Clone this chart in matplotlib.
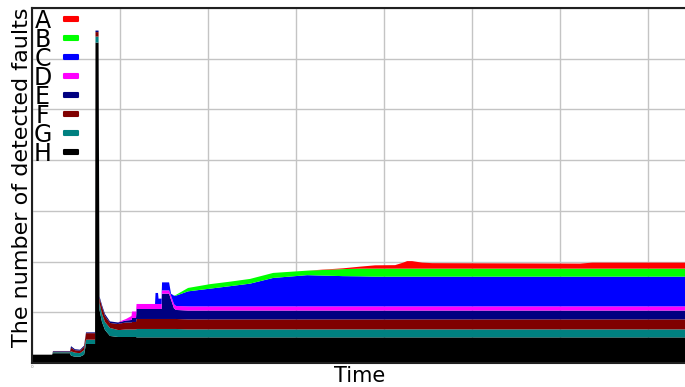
import matplotlib
matplotlib.use("Agg")
import matplotlib.pyplot as plt
import numpy as np
from matplotlib.patches import Rectangle

# time axis (grid units) and per-series fault counts, stacked H at the bottom up to A
TIME = [0.000, 0.228, 0.239, 0.432, 0.444, 0.489, 0.546, 0.592, 0.614, 0.717,
        0.722, 0.757, 0.768, 0.796, 0.830, 0.887, 0.978, 1.001, 1.069, 1.132,
        1.138, 1.183, 1.189, 1.399, 1.405, 1.433, 1.439, 1.473, 1.479, 1.559,
        1.581, 1.615, 1.638, 1.775, 2.025, 2.253, 2.480, 2.742, 3.129, 3.538,
        3.731, 3.902, 4.130, 4.221, 4.266, 4.323, 4.437, 4.551, 6.234, 6.371,
        7.500]

H = [0.164, 0.164, 0.193, 0.193, 0.144, 0.124, 0.124, 0.164, 0.375, 0.375,
     6.318, 6.318, 1.045, 0.809, 0.651, 0.533, 0.513, 0.513, 0.513, 0.513,
     0.513, 0.513, 0.505, 0.505, 0.505, 0.505, 0.505, 0.505, 0.505, 0.505,
     0.505, 0.505, 0.505, 0.505, 0.505, 0.505, 0.505, 0.505, 0.505, 0.505,
     0.505, 0.505, 0.505, 0.505, 0.505, 0.505, 0.505, 0.505, 0.505, 0.505,
     0.505]
G = [0.000, 0.000, 0.020, 0.020, 0.085, 0.079, 0.069, 0.089, 0.085, 0.085,
     0.118, 0.118, 0.138, 0.158, 0.158, 0.158, 0.138, 0.138, 0.148, 0.148,
     0.148, 0.148, 0.166, 0.166, 0.166, 0.166, 0.166, 0.166, 0.166, 0.166,
     0.166, 0.166, 0.166, 0.158, 0.158, 0.158, 0.158, 0.158, 0.158, 0.158,
     0.158, 0.158, 0.158, 0.158, 0.158, 0.158, 0.158, 0.158, 0.158, 0.158,
     0.158]
F = [0.000, 0.000, 0.014, 0.014, 0.073, 0.049, 0.049, 0.069, 0.128, 0.128,
     0.089, 0.089, 0.099, 0.138, 0.118, 0.099, 0.118, 0.128, 0.138, 0.138,
     0.148, 0.148, 0.197, 0.197, 0.197, 0.197, 0.197, 0.197, 0.197, 0.197,
     0.197, 0.197, 0.197, 0.197, 0.197, 0.197, 0.197, 0.197, 0.197, 0.197,
     0.197, 0.197, 0.197, 0.197, 0.197, 0.197, 0.197, 0.197, 0.197, 0.197,
     0.197]
E = [0.000, 0.000, 0.010, 0.010, 0.030, 0.020, 0.020, 0.020, 0.016, 0.016,
     0.030, 0.030, 0.030, 0.039, 0.039, 0.030, 0.030, 0.030, 0.039, 0.049,
     0.079, 0.079, 0.197, 0.197, 0.197, 0.197, 0.197, 0.197, 0.499, 0.499,
     0.381, 0.207, 0.178, 0.174, 0.174, 0.174, 0.174, 0.174, 0.174, 0.174,
     0.174, 0.174, 0.174, 0.174, 0.174, 0.174, 0.174, 0.174, 0.174, 0.174,
     0.174]
D = [0.000, 0.000, 0.000, 0.000, 0.000, 0.000, 0.000, 0.000, 0.000, 0.000,
     0.000, 0.000, 0.000, 0.000, 0.000, 0.000, 0.000, 0.010, 0.030, 0.079,
     0.128, 0.128, 0.099, 0.099, 0.099, 0.099, 0.099, 0.099, 0.065, 0.065,
     0.079, 0.085, 0.079, 0.083, 0.083, 0.083, 0.083, 0.083, 0.083, 0.083,
     0.083, 0.083, 0.083, 0.083, 0.083, 0.083, 0.083, 0.083, 0.083, 0.083,
     0.083]
C = [0.000, 0.000, 0.000, 0.000, 0.000, 0.000, 0.000, 0.000, 0.000, 0.000,
     0.000, 0.000, 0.000, 0.000, 0.000, 0.000, 0.000, 0.000, 0.000, 0.000,
     0.000, 0.000, 0.000, 0.000, 0.217, 0.217, 0.105, 0.105, 0.158, 0.158,
     0.039, 0.168, 0.203, 0.296, 0.349, 0.398, 0.448, 0.560, 0.615, 0.596,
     0.592, 0.586, 0.586, 0.586, 0.586, 0.586, 0.586, 0.586, 0.586, 0.586,
     0.586]
B = [0.000, 0.000, 0.000, 0.000, 0.000, 0.000, 0.000, 0.000, 0.000, 0.000,
     0.000, 0.000, 0.000, 0.000, 0.000, 0.000, 0.000, 0.000, 0.000, 0.000,
     0.000, 0.000, 0.000, 0.000, 0.000, 0.000, 0.000, 0.000, 0.000, 0.000,
     0.000, 0.000, 0.016, 0.067, 0.089, 0.089, 0.093, 0.099, 0.089, 0.138,
     0.152, 0.158, 0.158, 0.158, 0.158, 0.158, 0.158, 0.158, 0.158, 0.158,
     0.158]
A = [0.000, 0.000, 0.000, 0.000, 0.000, 0.000, 0.000, 0.000, 0.000, 0.000,
     0.000, 0.000, 0.000, 0.000, 0.000, 0.000, 0.000, 0.000, 0.000, 0.000,
     0.000, 0.000, 0.000, 0.000, 0.000, 0.000, 0.000, 0.000, 0.000, 0.000,
     0.000, 0.000, 0.000, 0.000, 0.000, 0.000, 0.000, 0.000, 0.000, 0.016,
     0.039, 0.065, 0.069, 0.118, 0.148, 0.148, 0.118, 0.108, 0.099, 0.118,
     0.118]

NAMES = ["A", "B", "C", "D", "E", "F", "G", "H"]
COLORS = ["#ff0000", "#00ff00", "#0000ff", "#ff00ff",
          "#000080", "#800000", "#008080", "#000000"]

fig = plt.figure(figsize=(6.85, 3.87), dpi=100)
ax = fig.add_axes([32 / 685, 24 / 387, 656 / 685, 355 / 387])

layers = [H, G, F, E, D, C, B, A]
ax.stackplot(TIME, *layers, colors=COLORS[::-1], linewidth=0)

ax.set_xlim(0, 7.46)
ax.set_ylim(0, 7)
ax.set_xticks(np.arange(0, 8))
ax.set_xticklabels(["0"] + [""] * 7)
ax.set_yticks(np.arange(0, 8))
ax.set_yticklabels([])
ax.tick_params(length=0, labelsize=3, labelcolor="#808080", pad=1.5)
ax.grid(True, color="#c4c4c4", linewidth=1)
ax.set_axisbelow(True)
for side in ("left", "top", "bottom"):
    ax.spines[side].set_color("#202020")
    ax.spines[side].set_linewidth(1.5)
ax.spines["right"].set_visible(False)

ax.set_xlabel("Time", fontsize=15, labelpad=-2.5)
ax.set_ylabel("The number of detected faults", fontsize=16)
ax.yaxis.set_label_coords(0.0, 0.522)

# hand-placed key: letter, then a small colour bar
for k, (name, col) in enumerate(zip(NAMES, COLORS)):
    yc = 387 - (19 + 19.0 * k)
    fig.text(42.5 / 685, (yc - 9) / 387, name, ha="center", va="baseline", fontsize=17)
    fig.patches.append(Rectangle((63.5 / 685, (yc - 2) / 387), 14 / 685, 4 / 387,
                                 transform=fig.transFigure, facecolor=col,
                                 edgecolor=col, linewidth=1.5, joinstyle="round"))

fig.savefig("out.png", dpi=100)
